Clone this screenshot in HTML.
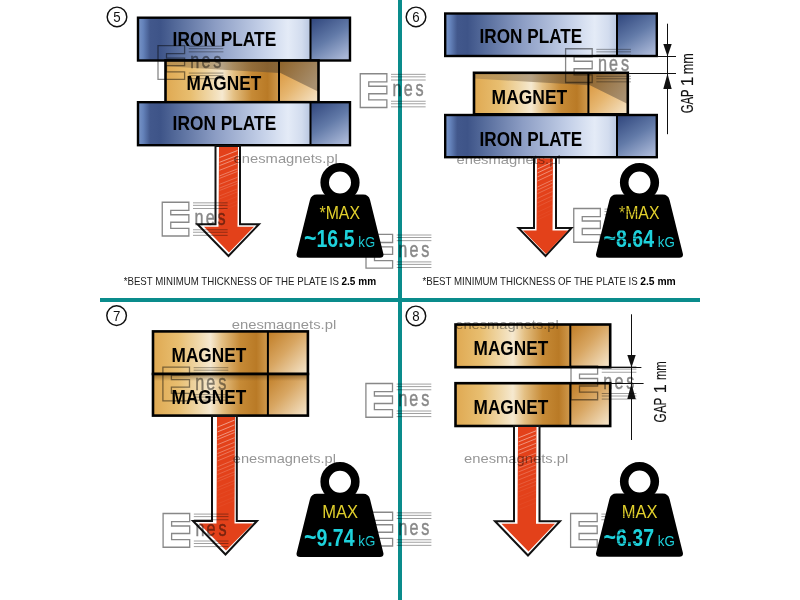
<!DOCTYPE html><html><head><meta charset="utf-8"><style>html,body{margin:0;padding:0;width:800px;height:600px;overflow:hidden;background:#fff}</style></head><body><svg width="800" height="600" viewBox="0 0 800 600" style="position:absolute;left:0;top:0;will-change:transform"><defs>
<linearGradient id="ironL" x1="0" y1="0" x2="1" y2="0">
 <stop offset="0" stop-color="#7a96c8"/>
 <stop offset="0.03" stop-color="#6482ba"/>
 <stop offset="0.07" stop-color="#42588c"/>
 <stop offset="0.13" stop-color="#3e5488"/>
 <stop offset="0.22" stop-color="#546a9a"/>
 <stop offset="0.45" stop-color="#8c9dc4"/>
 <stop offset="0.72" stop-color="#c4d0e8"/>
 <stop offset="0.87" stop-color="#e4ebf7"/>
 <stop offset="0.95" stop-color="#d2dcee"/>
 <stop offset="1" stop-color="#b8c6e0"/>
</linearGradient>
<linearGradient id="ironR" x1="0.15" y1="0" x2="0.75" y2="1">
 <stop offset="0" stop-color="#344a80"/>
 <stop offset="0.5" stop-color="#627aa8"/>
 <stop offset="1" stop-color="#a8b6d6"/>
</linearGradient>
<linearGradient id="magL" x1="0" y1="0" x2="1" y2="0">
 <stop offset="0" stop-color="#dfa952"/>
 <stop offset="0.22" stop-color="#e8be70"/>
 <stop offset="0.4" stop-color="#f0d9ac"/>
 <stop offset="0.5" stop-color="#f6e9d0"/>
 <stop offset="0.6" stop-color="#e4c084"/>
 <stop offset="0.76" stop-color="#c68a36"/>
 <stop offset="0.9" stop-color="#b97a26"/>
 <stop offset="1" stop-color="#d09a4e"/>
</linearGradient>
<linearGradient id="magShade" x1="0" y1="0" x2="1" y2="0">
 <stop offset="0" stop-color="#806848" stop-opacity="0.35"/>
 <stop offset="0.5" stop-color="#806848" stop-opacity="0.55"/>
 <stop offset="1" stop-color="#6a5030" stop-opacity="0.7"/>
</linearGradient>
<linearGradient id="magR2" x1="0" y1="0" x2="1" y2="1">
 <stop offset="0" stop-color="#d68e30"/>
 <stop offset="0.5" stop-color="#e6b670"/>
 <stop offset="1" stop-color="#f6e6cc"/>
</linearGradient>
<linearGradient id="magR2s" x1="0" y1="0" x2="1" y2="0.6">
 <stop offset="0" stop-color="#8e6228"/>
 <stop offset="1" stop-color="#a89070"/>
</linearGradient>
<linearGradient id="magR" x1="0" y1="0" x2="1" y2="1">
 <stop offset="0" stop-color="#c07c24"/>
 <stop offset="0.45" stop-color="#d8a662"/>
 <stop offset="1" stop-color="#f6e8d0"/>
</linearGradient>
<linearGradient id="topShade" x1="0" y1="0" x2="0" y2="1">
 <stop offset="0" stop-color="#5a3a10" stop-opacity="0.55"/>
 <stop offset="1" stop-color="#5a3a10" stop-opacity="0"/>
</linearGradient>
</defs><rect width="800" height="600" fill="#fff"/><rect x="398" y="0" width="4" height="600" fill="#0a8c8c"/><rect x="100" y="298" width="600" height="4" fill="#0a8c8c"/><circle cx="117" cy="16.9" r="9.8" fill="none" stroke="#111" stroke-width="1.45"/><text x="113.3" y="22.2" font-family='"Liberation Sans", sans-serif' font-size="14.6" fill="#111" textLength="7.4" lengthAdjust="spacingAndGlyphs">5</text><rect x="138" y="17.7" width="172.5" height="42.8" fill="url(#ironL)"/><rect x="310.5" y="17.7" width="39.5" height="42.8" fill="url(#ironR)"/><rect x="138" y="17.7" width="212" height="42.8" fill="none" stroke="#000" stroke-width="2.4"/><line x1="310.5" y1="17.7" x2="310.5" y2="60.5" stroke="#000" stroke-width="2"/><rect x="165.5" y="60.5" width="113.5" height="41.7" fill="url(#magL)"/><polygon points="165.5,60.5 279,60.5 279,73.01 165.5,66.338" fill="url(#magShade)"/><rect x="279" y="60.5" width="39.5" height="41.7" fill="url(#magR2)"/><polygon points="279,60.5 318.5,60.5 318.5,91.775 279,72.176" fill="url(#magR2s)"/><rect x="165.5" y="60.5" width="153.0" height="41.7" fill="none" stroke="#000" stroke-width="2.6"/><line x1="279" y1="60.5" x2="279" y2="102.2" stroke="#000" stroke-width="2"/><rect x="138" y="102.2" width="172.5" height="42.999999999999986" fill="url(#ironL)"/><rect x="310.5" y="102.2" width="39.5" height="42.999999999999986" fill="url(#ironR)"/><rect x="138" y="102.2" width="212" height="42.999999999999986" fill="none" stroke="#000" stroke-width="2.4"/><line x1="310.5" y1="102.2" x2="310.5" y2="145.2" stroke="#000" stroke-width="2"/><text x="172.6" y="46" font-family='"Liberation Sans", sans-serif' font-weight="bold" font-size="21" textLength="103.6" lengthAdjust="spacingAndGlyphs">IRON PLATE</text><text x="186.6" y="90" font-family='"Liberation Sans", sans-serif' font-weight="bold" font-size="21" textLength="74.6" lengthAdjust="spacingAndGlyphs">MAGNET</text><text x="172.6" y="130" font-family='"Liberation Sans", sans-serif' font-weight="bold" font-size="21" textLength="103.6" lengthAdjust="spacingAndGlyphs">IRON PLATE</text><polygon points="215.5,146 240,146 240,224.2 259.0,224.2 228.5,256.0 197.5,224.2 215.5,224.2" fill="#fff" stroke="#111" stroke-width="2" stroke-linejoin="miter" stroke-miterlimit="10"/><polygon points="219,147 238,147 237.5,226.7 254,226.7 229.0,252.5 204,226.7 218.5,226.7" fill="#e3411a"/><line x1="219.5" y1="157.5" x2="237.5" y2="150.5" stroke="#fff" stroke-opacity="0.80" stroke-width="0.6"/><line x1="219.5" y1="162.3" x2="237.5" y2="155.3" stroke="#fff" stroke-opacity="0.74" stroke-width="0.6"/><line x1="219.5" y1="165.6" x2="237.5" y2="158.6" stroke="#fff" stroke-opacity="0.67" stroke-width="0.6"/><line x1="219.5" y1="170.3" x2="237.5" y2="163.3" stroke="#fff" stroke-opacity="0.61" stroke-width="0.6"/><line x1="219.5" y1="175.9" x2="237.5" y2="168.9" stroke="#fff" stroke-opacity="0.54" stroke-width="0.6"/><line x1="219.5" y1="178.4" x2="237.5" y2="171.4" stroke="#fff" stroke-opacity="0.48" stroke-width="0.6"/><line x1="219.5" y1="184.3" x2="237.5" y2="177.3" stroke="#fff" stroke-opacity="0.41" stroke-width="0.6"/><line x1="219.5" y1="188.1" x2="237.5" y2="181.1" stroke="#fff" stroke-opacity="0.35" stroke-width="0.6"/><line x1="219.5" y1="190.5" x2="237.5" y2="183.5" stroke="#fff" stroke-opacity="0.29" stroke-width="0.6"/><line x1="219.5" y1="195.9" x2="237.5" y2="188.9" stroke="#fff" stroke-opacity="0.22" stroke-width="0.6"/><line x1="219.5" y1="198.9" x2="237.5" y2="191.9" stroke="#fff" stroke-opacity="0.16" stroke-width="0.6"/><line x1="219.5" y1="203.3" x2="237.5" y2="196.3" stroke="#fff" stroke-opacity="0.09" stroke-width="0.6"/><line x1="219.5" y1="208.1" x2="237.5" y2="201.1" stroke="#fff" stroke-opacity="0.08" stroke-width="0.6"/><line x1="219.5" y1="211.6" x2="237.5" y2="204.6" stroke="#fff" stroke-opacity="0.08" stroke-width="0.6"/><circle cx="340" cy="182.5" r="15.3" fill="none" stroke="#000" stroke-width="8.6"/><path d="M316.85,194.6 L363.15,194.6 Q368.65,194.6 370.04699999999997,200.1 L383.257,253.2 Q384.4,257.7 379.9,257.7 L300.1,257.7 Q295.6,257.7 296.743,253.2 L309.95300000000003,200.1 Q311.35,194.6 316.85,194.6 Z" fill="#000"/><text x="319.5" y="219.1" font-family='"Liberation Sans", sans-serif' font-size="18.4" fill="#e0cf2c" textLength="40.5" lengthAdjust="spacingAndGlyphs">*MAX</text><text x="304" y="247.0" font-family='"Liberation Sans", sans-serif' font-weight="bold" font-size="25" fill="#1ed2dc" textLength="12.5" lengthAdjust="spacingAndGlyphs">~</text><text x="316.5" y="247.0" font-family='"Liberation Sans", sans-serif' font-weight="bold" font-size="24" fill="#1ed2dc" textLength="38" lengthAdjust="spacingAndGlyphs">16.5</text><text x="358.3" y="247.0" font-family='"Liberation Sans", sans-serif' font-size="14.5" fill="#1ed2dc" textLength="17" lengthAdjust="spacingAndGlyphs">kG</text><text x="123.7" y="284.7" font-family='"Liberation Sans", sans-serif' font-size="10.5" fill="#222" textLength="215.3" lengthAdjust="spacingAndGlyphs">*BEST MINIMUM THICKNESS OF THE PLATE IS</text><text x="341.5" y="284.7" font-family='"Liberation Sans", sans-serif' font-weight="bold" font-size="10.5" fill="#000" textLength="34.6" lengthAdjust="spacingAndGlyphs">2.5 mm</text><circle cx="416" cy="16.9" r="9.8" fill="none" stroke="#111" stroke-width="1.45"/><text x="412.3" y="22.2" font-family='"Liberation Sans", sans-serif' font-size="14.6" fill="#111" textLength="7.4" lengthAdjust="spacingAndGlyphs">6</text><rect x="445.2" y="13.5" width="171.8" height="42.5" fill="url(#ironL)"/><rect x="617" y="13.5" width="39.799999999999955" height="42.5" fill="url(#ironR)"/><rect x="445.2" y="13.5" width="211.59999999999997" height="42.5" fill="none" stroke="#000" stroke-width="2.4"/><line x1="617" y1="13.5" x2="617" y2="56" stroke="#000" stroke-width="2"/><rect x="474" y="72.8" width="114.39999999999998" height="41.5" fill="url(#magL)"/><polygon points="474,72.8 588.4,72.8 588.4,85.25 474,78.61" fill="url(#magShade)"/><rect x="588.4" y="72.8" width="39.39999999999998" height="41.5" fill="url(#magR2)"/><polygon points="588.4,72.8 627.8,72.8 627.8,103.925 588.4,84.42" fill="url(#magR2s)"/><rect x="474" y="72.8" width="153.79999999999995" height="41.5" fill="none" stroke="#000" stroke-width="2.6"/><line x1="588.4" y1="72.8" x2="588.4" y2="114.3" stroke="#000" stroke-width="2"/><rect x="445.2" y="115" width="171.8" height="42.19999999999999" fill="url(#ironL)"/><rect x="617" y="115" width="39.799999999999955" height="42.19999999999999" fill="url(#ironR)"/><rect x="445.2" y="115" width="211.59999999999997" height="42.19999999999999" fill="none" stroke="#000" stroke-width="2.4"/><line x1="617" y1="115" x2="617" y2="157.2" stroke="#000" stroke-width="2"/><text x="479.6" y="43" font-family='"Liberation Sans", sans-serif' font-weight="bold" font-size="21" textLength="102.6" lengthAdjust="spacingAndGlyphs">IRON PLATE</text><text x="491.6" y="104" font-family='"Liberation Sans", sans-serif' font-weight="bold" font-size="21" textLength="75.6" lengthAdjust="spacingAndGlyphs">MAGNET</text><text x="479.6" y="146" font-family='"Liberation Sans", sans-serif' font-weight="bold" font-size="21" textLength="102.6" lengthAdjust="spacingAndGlyphs">IRON PLATE</text><polygon points="534,157.5 556,157.5 556,228 571.5,228 545.5,256.0 518.5,228 534,228" fill="#fff" stroke="#111" stroke-width="2" stroke-linejoin="miter" stroke-miterlimit="10"/><polygon points="537,158.5 553,158.5 552.5,230.5 568,230.5 546.0,254 523,230.5 536.5,230.5" fill="#e3411a"/><line x1="537.5" y1="169.0" x2="552.5" y2="162.0" stroke="#fff" stroke-opacity="0.80" stroke-width="0.6"/><line x1="537.5" y1="172.9" x2="552.5" y2="165.9" stroke="#fff" stroke-opacity="0.73" stroke-width="0.6"/><line x1="537.5" y1="176.8" x2="552.5" y2="169.8" stroke="#fff" stroke-opacity="0.66" stroke-width="0.6"/><line x1="537.5" y1="181.0" x2="552.5" y2="174.0" stroke="#fff" stroke-opacity="0.59" stroke-width="0.6"/><line x1="537.5" y1="187.0" x2="552.5" y2="180.0" stroke="#fff" stroke-opacity="0.52" stroke-width="0.6"/><line x1="537.5" y1="190.1" x2="552.5" y2="183.1" stroke="#fff" stroke-opacity="0.45" stroke-width="0.6"/><line x1="537.5" y1="193.6" x2="552.5" y2="186.6" stroke="#fff" stroke-opacity="0.38" stroke-width="0.6"/><line x1="537.5" y1="198.4" x2="552.5" y2="191.4" stroke="#fff" stroke-opacity="0.32" stroke-width="0.6"/><line x1="537.5" y1="202.8" x2="552.5" y2="195.8" stroke="#fff" stroke-opacity="0.25" stroke-width="0.6"/><line x1="537.5" y1="206.7" x2="552.5" y2="199.7" stroke="#fff" stroke-opacity="0.18" stroke-width="0.6"/><line x1="537.5" y1="212.3" x2="552.5" y2="205.3" stroke="#fff" stroke-opacity="0.11" stroke-width="0.6"/><line x1="537.5" y1="216.7" x2="552.5" y2="209.7" stroke="#fff" stroke-opacity="0.08" stroke-width="0.6"/><line x1="537.5" y1="219.9" x2="552.5" y2="212.9" stroke="#fff" stroke-opacity="0.08" stroke-width="0.6"/><circle cx="639.5" cy="182.5" r="15.3" fill="none" stroke="#000" stroke-width="8.6"/><path d="M616.35,194.6 L662.65,194.6 Q668.15,194.6 669.547,200.1 L682.757,253.2 Q683.9,257.7 679.4,257.7 L599.6,257.7 Q595.1,257.7 596.243,253.2 L609.453,200.1 Q610.85,194.6 616.35,194.6 Z" fill="#000"/><text x="619.0" y="219.1" font-family='"Liberation Sans", sans-serif' font-size="18.4" fill="#e0cf2c" textLength="40.5" lengthAdjust="spacingAndGlyphs">*MAX</text><text x="603.5" y="247.0" font-family='"Liberation Sans", sans-serif' font-weight="bold" font-size="25" fill="#1ed2dc" textLength="12.5" lengthAdjust="spacingAndGlyphs">~</text><text x="616.0" y="247.0" font-family='"Liberation Sans", sans-serif' font-weight="bold" font-size="24" fill="#1ed2dc" textLength="38" lengthAdjust="spacingAndGlyphs">8.64</text><text x="657.8" y="247.0" font-family='"Liberation Sans", sans-serif' font-size="14.5" fill="#1ed2dc" textLength="17" lengthAdjust="spacingAndGlyphs">kG</text><text x="422.45" y="284.7" font-family='"Liberation Sans", sans-serif' font-size="10.5" fill="#222" textLength="215.3" lengthAdjust="spacingAndGlyphs">*BEST MINIMUM THICKNESS OF THE PLATE IS</text><text x="640.25" y="284.7" font-family='"Liberation Sans", sans-serif' font-weight="bold" font-size="10.5" fill="#000" textLength="35.5" lengthAdjust="spacingAndGlyphs">2.5 mm</text><line x1="667.5" y1="23.7" x2="667.5" y2="134.2" stroke="#111" stroke-width="1"/><line x1="657" y1="56.5" x2="676" y2="56.5" stroke="#111" stroke-width="1"/><line x1="628" y1="73.5" x2="676" y2="73.5" stroke="#111" stroke-width="1"/><polygon points="663.3,44.0 671.7,44.0 667.5,56.5" fill="#111"/><polygon points="663.3,89.0 671.7,89.0 667.5,73.5" fill="#111"/><text transform="translate(692.5,113.3) rotate(-90)" x="0" y="0" font-family='"Liberation Sans", sans-serif' font-size="16" fill="#111" stroke="#111" stroke-width="0.15" textLength="23.8" lengthAdjust="spacingAndGlyphs">GAP</text><text transform="translate(692.5,86.2) rotate(-90)" x="0" y="0" font-family='"Liberation Sans", sans-serif' font-size="16" fill="#111" stroke="#111" stroke-width="0.15" textLength="9.5" lengthAdjust="spacingAndGlyphs">1</text><text transform="translate(692.5,74.3) rotate(-90)" x="0" y="0" font-family='"Liberation Sans", sans-serif' font-size="16" fill="#111" stroke="#111" stroke-width="0.15" textLength="21.1" lengthAdjust="spacingAndGlyphs">mm</text><circle cx="116.6" cy="315.6" r="9.8" fill="none" stroke="#111" stroke-width="1.45"/><text x="112.89999999999999" y="320.90000000000003" font-family='"Liberation Sans", sans-serif' font-size="14.6" fill="#111" textLength="7.4" lengthAdjust="spacingAndGlyphs">7</text><rect x="153" y="331.4" width="114.89999999999998" height="42.60000000000002" fill="url(#magL)"/><rect x="267.9" y="331.4" width="40.0" height="42.60000000000002" fill="url(#magR)"/><rect x="153" y="331.4" width="154.89999999999998" height="42.60000000000002" fill="none" stroke="#000" stroke-width="2.6"/><line x1="267.9" y1="331.4" x2="267.9" y2="374" stroke="#000" stroke-width="2"/><rect x="153" y="374" width="114.89999999999998" height="41.60000000000002" fill="url(#magL)"/><rect x="267.9" y="374" width="40.0" height="41.60000000000002" fill="url(#magR)"/><rect x="153" y="374" width="154.89999999999998" height="7" fill="url(#topShade)"/><rect x="153" y="374" width="154.89999999999998" height="41.60000000000002" fill="none" stroke="#000" stroke-width="2.6"/><line x1="267.9" y1="374" x2="267.9" y2="415.6" stroke="#000" stroke-width="2"/><text x="171.6" y="362" font-family='"Liberation Sans", sans-serif' font-weight="bold" font-size="21" textLength="74.6" lengthAdjust="spacingAndGlyphs">MAGNET</text><text x="171.6" y="404" font-family='"Liberation Sans", sans-serif' font-weight="bold" font-size="21" textLength="74.6" lengthAdjust="spacingAndGlyphs">MAGNET</text><polygon points="212,416 236.8,416 236.8,521 257.0,521 225.5,554.5 193.0,521 212,521" fill="#fff" stroke="#111" stroke-width="2" stroke-linejoin="miter" stroke-miterlimit="10"/><polygon points="217,417 235,417 234.5,523.5 253,523.5 226.0,550.5 199,523.5 216.5,523.5" fill="#e3411a"/><line x1="217.5" y1="427.1" x2="234.5" y2="420.1" stroke="#fff" stroke-opacity="0.80" stroke-width="0.6"/><line x1="217.5" y1="431.9" x2="234.5" y2="424.9" stroke="#fff" stroke-opacity="0.76" stroke-width="0.6"/><line x1="217.5" y1="436.8" x2="234.5" y2="429.8" stroke="#fff" stroke-opacity="0.71" stroke-width="0.6"/><line x1="217.5" y1="439.5" x2="234.5" y2="432.5" stroke="#fff" stroke-opacity="0.67" stroke-width="0.6"/><line x1="217.5" y1="444.7" x2="234.5" y2="437.7" stroke="#fff" stroke-opacity="0.62" stroke-width="0.6"/><line x1="217.5" y1="449.3" x2="234.5" y2="442.3" stroke="#fff" stroke-opacity="0.58" stroke-width="0.6"/><line x1="217.5" y1="453.5" x2="234.5" y2="446.5" stroke="#fff" stroke-opacity="0.53" stroke-width="0.6"/><line x1="217.5" y1="456.7" x2="234.5" y2="449.7" stroke="#fff" stroke-opacity="0.49" stroke-width="0.6"/><line x1="217.5" y1="460.9" x2="234.5" y2="453.9" stroke="#fff" stroke-opacity="0.44" stroke-width="0.6"/><line x1="217.5" y1="466.8" x2="234.5" y2="459.8" stroke="#fff" stroke-opacity="0.40" stroke-width="0.6"/><line x1="217.5" y1="470.7" x2="234.5" y2="463.7" stroke="#fff" stroke-opacity="0.35" stroke-width="0.6"/><line x1="217.5" y1="474.5" x2="234.5" y2="467.5" stroke="#fff" stroke-opacity="0.31" stroke-width="0.6"/><line x1="217.5" y1="478.9" x2="234.5" y2="471.9" stroke="#fff" stroke-opacity="0.26" stroke-width="0.6"/><line x1="217.5" y1="481.5" x2="234.5" y2="474.5" stroke="#fff" stroke-opacity="0.21" stroke-width="0.6"/><line x1="217.5" y1="487.5" x2="234.5" y2="480.5" stroke="#fff" stroke-opacity="0.17" stroke-width="0.6"/><line x1="217.5" y1="490.4" x2="234.5" y2="483.4" stroke="#fff" stroke-opacity="0.12" stroke-width="0.6"/><line x1="217.5" y1="495.2" x2="234.5" y2="488.2" stroke="#fff" stroke-opacity="0.08" stroke-width="0.6"/><line x1="217.5" y1="499.2" x2="234.5" y2="492.2" stroke="#fff" stroke-opacity="0.08" stroke-width="0.6"/><line x1="217.5" y1="503.9" x2="234.5" y2="496.9" stroke="#fff" stroke-opacity="0.08" stroke-width="0.6"/><line x1="217.5" y1="507.4" x2="234.5" y2="500.4" stroke="#fff" stroke-opacity="0.08" stroke-width="0.6"/><circle cx="340" cy="481.7" r="15.3" fill="none" stroke="#000" stroke-width="8.6"/><path d="M316.85,493.8 L363.15,493.8 Q368.65,493.8 370.04699999999997,499.3 L383.257,552.4 Q384.4,556.9 379.9,556.9 L300.1,556.9 Q295.6,556.9 296.743,552.4 L309.95300000000003,499.3 Q311.35,493.8 316.85,493.8 Z" fill="#000"/><text x="322.2" y="518.3" font-family='"Liberation Sans", sans-serif' font-size="18.4" fill="#e0cf2c" textLength="35.8" lengthAdjust="spacingAndGlyphs">MAX</text><text x="304" y="546.2" font-family='"Liberation Sans", sans-serif' font-weight="bold" font-size="25" fill="#1ed2dc" textLength="12.5" lengthAdjust="spacingAndGlyphs">~</text><text x="316.5" y="546.2" font-family='"Liberation Sans", sans-serif' font-weight="bold" font-size="24" fill="#1ed2dc" textLength="38" lengthAdjust="spacingAndGlyphs">9.74</text><text x="358.3" y="546.2" font-family='"Liberation Sans", sans-serif' font-size="14.5" fill="#1ed2dc" textLength="17" lengthAdjust="spacingAndGlyphs">kG</text><circle cx="415.9" cy="315.9" r="9.8" fill="none" stroke="#111" stroke-width="1.45"/><text x="412.2" y="321.2" font-family='"Liberation Sans", sans-serif' font-size="14.6" fill="#111" textLength="7.4" lengthAdjust="spacingAndGlyphs">8</text><rect x="455.5" y="324.5" width="114.79999999999995" height="42.69999999999999" fill="url(#magL)"/><rect x="570.3" y="324.5" width="39.90000000000009" height="42.69999999999999" fill="url(#magR)"/><rect x="455.5" y="324.5" width="154.70000000000005" height="42.69999999999999" fill="none" stroke="#000" stroke-width="2.6"/><line x1="570.3" y1="324.5" x2="570.3" y2="367.2" stroke="#000" stroke-width="2"/><rect x="455.5" y="383.2" width="114.79999999999995" height="42.80000000000001" fill="url(#magL)"/><rect x="570.3" y="383.2" width="39.90000000000009" height="42.80000000000001" fill="url(#magR)"/><rect x="455.5" y="383.2" width="154.70000000000005" height="42.80000000000001" fill="none" stroke="#000" stroke-width="2.6"/><line x1="570.3" y1="383.2" x2="570.3" y2="426" stroke="#000" stroke-width="2"/><text x="473.6" y="355" font-family='"Liberation Sans", sans-serif' font-weight="bold" font-size="21" textLength="74.6" lengthAdjust="spacingAndGlyphs">MAGNET</text><text x="473.6" y="414" font-family='"Liberation Sans", sans-serif' font-weight="bold" font-size="21" textLength="74.6" lengthAdjust="spacingAndGlyphs">MAGNET</text><polygon points="514,426 539.5,426 539.5,521.2 560.0,521.2 528,555.5 495.0,521.2 514,521.2" fill="#fff" stroke="#111" stroke-width="2" stroke-linejoin="miter" stroke-miterlimit="10"/><polygon points="518,427 536.5,427 536.0,523.7 555,523.7 528.5,551.5 501.5,523.7 517.5,523.7" fill="#e3411a"/><line x1="518.5" y1="437.8" x2="536.0" y2="430.8" stroke="#fff" stroke-opacity="0.80" stroke-width="0.6"/><line x1="518.5" y1="441.9" x2="536.0" y2="434.9" stroke="#fff" stroke-opacity="0.75" stroke-width="0.6"/><line x1="518.5" y1="445.7" x2="536.0" y2="438.7" stroke="#fff" stroke-opacity="0.70" stroke-width="0.6"/><line x1="518.5" y1="450.3" x2="536.0" y2="443.3" stroke="#fff" stroke-opacity="0.65" stroke-width="0.6"/><line x1="518.5" y1="454.2" x2="536.0" y2="447.2" stroke="#fff" stroke-opacity="0.60" stroke-width="0.6"/><line x1="518.5" y1="460.1" x2="536.0" y2="453.1" stroke="#fff" stroke-opacity="0.55" stroke-width="0.6"/><line x1="518.5" y1="464.1" x2="536.0" y2="457.1" stroke="#fff" stroke-opacity="0.50" stroke-width="0.6"/><line x1="518.5" y1="468.2" x2="536.0" y2="461.2" stroke="#fff" stroke-opacity="0.45" stroke-width="0.6"/><line x1="518.5" y1="471.9" x2="536.0" y2="464.9" stroke="#fff" stroke-opacity="0.40" stroke-width="0.6"/><line x1="518.5" y1="475.8" x2="536.0" y2="468.8" stroke="#fff" stroke-opacity="0.35" stroke-width="0.6"/><line x1="518.5" y1="479.9" x2="536.0" y2="472.9" stroke="#fff" stroke-opacity="0.30" stroke-width="0.6"/><line x1="518.5" y1="484.8" x2="536.0" y2="477.8" stroke="#fff" stroke-opacity="0.25" stroke-width="0.6"/><line x1="518.5" y1="488.3" x2="536.0" y2="481.3" stroke="#fff" stroke-opacity="0.20" stroke-width="0.6"/><line x1="518.5" y1="491.8" x2="536.0" y2="484.8" stroke="#fff" stroke-opacity="0.15" stroke-width="0.6"/><line x1="518.5" y1="497.1" x2="536.0" y2="490.1" stroke="#fff" stroke-opacity="0.10" stroke-width="0.6"/><line x1="518.5" y1="500.1" x2="536.0" y2="493.1" stroke="#fff" stroke-opacity="0.08" stroke-width="0.6"/><line x1="518.5" y1="505.2" x2="536.0" y2="498.2" stroke="#fff" stroke-opacity="0.08" stroke-width="0.6"/><line x1="518.5" y1="509.6" x2="536.0" y2="502.6" stroke="#fff" stroke-opacity="0.08" stroke-width="0.6"/><circle cx="639.5" cy="481.5" r="15.3" fill="none" stroke="#000" stroke-width="8.6"/><path d="M616.35,493.6 L662.65,493.6 Q668.15,493.6 669.547,499.1 L682.757,552.2 Q683.9,556.7 679.4,556.7 L599.6,556.7 Q595.1,556.7 596.243,552.2 L609.453,499.1 Q610.85,493.6 616.35,493.6 Z" fill="#000"/><text x="621.7" y="518.1" font-family='"Liberation Sans", sans-serif' font-size="18.4" fill="#e0cf2c" textLength="35.8" lengthAdjust="spacingAndGlyphs">MAX</text><text x="603.5" y="546.0" font-family='"Liberation Sans", sans-serif' font-weight="bold" font-size="25" fill="#1ed2dc" textLength="12.5" lengthAdjust="spacingAndGlyphs">~</text><text x="616.0" y="546.0" font-family='"Liberation Sans", sans-serif' font-weight="bold" font-size="24" fill="#1ed2dc" textLength="38" lengthAdjust="spacingAndGlyphs">6.37</text><text x="657.8" y="546.0" font-family='"Liberation Sans", sans-serif' font-size="14.5" fill="#1ed2dc" textLength="17" lengthAdjust="spacingAndGlyphs">kG</text><line x1="631.5" y1="314.3" x2="631.5" y2="440" stroke="#111" stroke-width="1"/><line x1="610" y1="367.5" x2="641.4" y2="367.5" stroke="#111" stroke-width="1"/><line x1="610" y1="383.5" x2="643.6" y2="383.5" stroke="#111" stroke-width="1"/><polygon points="627.3,355.0 635.7,355.0 631.5,367.5" fill="#111"/><polygon points="627.3,399.0 635.7,399.0 631.5,383.5" fill="#111"/><text transform="translate(665.5,422.40000000000003) rotate(-90)" x="0" y="0" font-family='"Liberation Sans", sans-serif' font-size="16" fill="#111" stroke="#111" stroke-width="0.15" textLength="24.8" lengthAdjust="spacingAndGlyphs">GAP</text><text transform="translate(665.5,393.2) rotate(-90)" x="0" y="0" font-family='"Liberation Sans", sans-serif' font-size="16" fill="#111" stroke="#111" stroke-width="0.15" textLength="9.0" lengthAdjust="spacingAndGlyphs">1</text><text transform="translate(665.5,380.1) rotate(-90)" x="0" y="0" font-family='"Liberation Sans", sans-serif' font-size="16" fill="#111" stroke="#111" stroke-width="0.15" textLength="18.9" lengthAdjust="spacingAndGlyphs">mm</text><g style="mix-blend-mode:multiply" opacity="0.9"><g transform="translate(158,45.6)"><path d="M0,0 H26.6 V8.1 H8.5 V12.5 H26.6 V20 H8.5 V26.2 H26.6 V33.75 H0 Z" fill="none" stroke="#7a7a7a" stroke-width="1.3"/><line x1="30.75" y1="0.6" x2="65.4" y2="0.6" stroke="#8a8a8a" stroke-width="0.9"/><line x1="30.75" y1="3.1" x2="65.4" y2="3.1" stroke="#8a8a8a" stroke-width="0.9"/><line x1="30.75" y1="6.25" x2="65.4" y2="6.25" stroke="#8a8a8a" stroke-width="0.9"/><line x1="30.75" y1="27.5" x2="65.4" y2="27.5" stroke="#8a8a8a" stroke-width="0.9"/><line x1="30.75" y1="30" x2="65.4" y2="30" stroke="#8a8a8a" stroke-width="0.9"/><line x1="30.75" y1="33.1" x2="65.4" y2="33.1" stroke="#8a8a8a" stroke-width="0.9"/><text transform="translate(32.3,22.5) scale(0.72,1)" x="0 15.5 32" y="0" font-family='"Liberation Sans", sans-serif' font-size="22.5" fill="#7a7a7a" stroke="#7a7a7a" stroke-width="0.5">nes</text></g><g transform="translate(360.25,73.75)"><path d="M0,0 H26.6 V8.1 H8.5 V12.5 H26.6 V20 H8.5 V26.2 H26.6 V33.75 H0 Z" fill="none" stroke="#7a7a7a" stroke-width="1.3"/><line x1="30.75" y1="0.6" x2="65.4" y2="0.6" stroke="#8a8a8a" stroke-width="0.9"/><line x1="30.75" y1="3.1" x2="65.4" y2="3.1" stroke="#8a8a8a" stroke-width="0.9"/><line x1="30.75" y1="6.25" x2="65.4" y2="6.25" stroke="#8a8a8a" stroke-width="0.9"/><line x1="30.75" y1="27.5" x2="65.4" y2="27.5" stroke="#8a8a8a" stroke-width="0.9"/><line x1="30.75" y1="30" x2="65.4" y2="30" stroke="#8a8a8a" stroke-width="0.9"/><line x1="30.75" y1="33.1" x2="65.4" y2="33.1" stroke="#8a8a8a" stroke-width="0.9"/><text transform="translate(32.3,22.5) scale(0.72,1)" x="0 15.5 32" y="0" font-family='"Liberation Sans", sans-serif' font-size="22.5" fill="#7a7a7a" stroke="#7a7a7a" stroke-width="0.5">nes</text></g><g transform="translate(162.25,202.25)"><path d="M0,0 H26.6 V8.1 H8.5 V12.5 H26.6 V20 H8.5 V26.2 H26.6 V33.75 H0 Z" fill="none" stroke="#7a7a7a" stroke-width="1.3"/><line x1="30.75" y1="0.6" x2="65.4" y2="0.6" stroke="#8a8a8a" stroke-width="0.9"/><line x1="30.75" y1="3.1" x2="65.4" y2="3.1" stroke="#8a8a8a" stroke-width="0.9"/><line x1="30.75" y1="6.25" x2="65.4" y2="6.25" stroke="#8a8a8a" stroke-width="0.9"/><line x1="30.75" y1="27.5" x2="65.4" y2="27.5" stroke="#8a8a8a" stroke-width="0.9"/><line x1="30.75" y1="30" x2="65.4" y2="30" stroke="#8a8a8a" stroke-width="0.9"/><line x1="30.75" y1="33.1" x2="65.4" y2="33.1" stroke="#8a8a8a" stroke-width="0.9"/><text transform="translate(32.3,22.5) scale(0.72,1)" x="0 15.5 32" y="0" font-family='"Liberation Sans", sans-serif' font-size="22.5" fill="#7a7a7a" stroke="#7a7a7a" stroke-width="0.5">nes</text></g><g transform="translate(366,234.4)"><path d="M0,0 H26.6 V8.1 H8.5 V12.5 H26.6 V20 H8.5 V26.2 H26.6 V33.75 H0 Z" fill="none" stroke="#7a7a7a" stroke-width="1.3"/><line x1="30.75" y1="0.6" x2="65.4" y2="0.6" stroke="#8a8a8a" stroke-width="0.9"/><line x1="30.75" y1="3.1" x2="65.4" y2="3.1" stroke="#8a8a8a" stroke-width="0.9"/><line x1="30.75" y1="6.25" x2="65.4" y2="6.25" stroke="#8a8a8a" stroke-width="0.9"/><line x1="30.75" y1="27.5" x2="65.4" y2="27.5" stroke="#8a8a8a" stroke-width="0.9"/><line x1="30.75" y1="30" x2="65.4" y2="30" stroke="#8a8a8a" stroke-width="0.9"/><line x1="30.75" y1="33.1" x2="65.4" y2="33.1" stroke="#8a8a8a" stroke-width="0.9"/><text transform="translate(32.3,22.5) scale(0.72,1)" x="0 15.5 32" y="0" font-family='"Liberation Sans", sans-serif' font-size="22.5" fill="#7a7a7a" stroke="#7a7a7a" stroke-width="0.5">nes</text></g><g transform="translate(565.6,48.75)"><path d="M0,0 H26.6 V8.1 H8.5 V12.5 H26.6 V20 H8.5 V26.2 H26.6 V33.75 H0 Z" fill="none" stroke="#7a7a7a" stroke-width="1.3"/><line x1="30.75" y1="0.6" x2="65.4" y2="0.6" stroke="#8a8a8a" stroke-width="0.9"/><line x1="30.75" y1="3.1" x2="65.4" y2="3.1" stroke="#8a8a8a" stroke-width="0.9"/><line x1="30.75" y1="6.25" x2="65.4" y2="6.25" stroke="#8a8a8a" stroke-width="0.9"/><line x1="30.75" y1="27.5" x2="65.4" y2="27.5" stroke="#8a8a8a" stroke-width="0.9"/><line x1="30.75" y1="30" x2="65.4" y2="30" stroke="#8a8a8a" stroke-width="0.9"/><line x1="30.75" y1="33.1" x2="65.4" y2="33.1" stroke="#8a8a8a" stroke-width="0.9"/><text transform="translate(32.3,22.5) scale(0.72,1)" x="0 15.5 32" y="0" font-family='"Liberation Sans", sans-serif' font-size="22.5" fill="#7a7a7a" stroke="#7a7a7a" stroke-width="0.5">nes</text></g><g transform="translate(573.75,208.5)"><path d="M0,0 H26.6 V8.1 H8.5 V12.5 H26.6 V20 H8.5 V26.2 H26.6 V33.75 H0 Z" fill="none" stroke="#7a7a7a" stroke-width="1.3"/><line x1="30.75" y1="0.6" x2="65.4" y2="0.6" stroke="#8a8a8a" stroke-width="0.9"/><line x1="30.75" y1="3.1" x2="65.4" y2="3.1" stroke="#8a8a8a" stroke-width="0.9"/><line x1="30.75" y1="6.25" x2="65.4" y2="6.25" stroke="#8a8a8a" stroke-width="0.9"/><line x1="30.75" y1="27.5" x2="65.4" y2="27.5" stroke="#8a8a8a" stroke-width="0.9"/><line x1="30.75" y1="30" x2="65.4" y2="30" stroke="#8a8a8a" stroke-width="0.9"/><line x1="30.75" y1="33.1" x2="65.4" y2="33.1" stroke="#8a8a8a" stroke-width="0.9"/><text transform="translate(32.3,22.5) scale(0.72,1)" x="0 15.5 32" y="0" font-family='"Liberation Sans", sans-serif' font-size="22.5" fill="#7a7a7a" stroke="#7a7a7a" stroke-width="0.5">nes</text></g><g transform="translate(162.9,367.1)"><path d="M0,0 H26.6 V8.1 H8.5 V12.5 H26.6 V20 H8.5 V26.2 H26.6 V33.75 H0 Z" fill="none" stroke="#7a7a7a" stroke-width="1.3"/><line x1="30.75" y1="0.6" x2="65.4" y2="0.6" stroke="#8a8a8a" stroke-width="0.9"/><line x1="30.75" y1="3.1" x2="65.4" y2="3.1" stroke="#8a8a8a" stroke-width="0.9"/><line x1="30.75" y1="6.25" x2="65.4" y2="6.25" stroke="#8a8a8a" stroke-width="0.9"/><line x1="30.75" y1="27.5" x2="65.4" y2="27.5" stroke="#8a8a8a" stroke-width="0.9"/><line x1="30.75" y1="30" x2="65.4" y2="30" stroke="#8a8a8a" stroke-width="0.9"/><line x1="30.75" y1="33.1" x2="65.4" y2="33.1" stroke="#8a8a8a" stroke-width="0.9"/><text transform="translate(32.3,22.5) scale(0.72,1)" x="0 15.5 32" y="0" font-family='"Liberation Sans", sans-serif' font-size="22.5" fill="#7a7a7a" stroke="#7a7a7a" stroke-width="0.5">nes</text></g><g transform="translate(365.9,383.5)"><path d="M0,0 H26.6 V8.1 H8.5 V12.5 H26.6 V20 H8.5 V26.2 H26.6 V33.75 H0 Z" fill="none" stroke="#7a7a7a" stroke-width="1.3"/><line x1="30.75" y1="0.6" x2="65.4" y2="0.6" stroke="#8a8a8a" stroke-width="0.9"/><line x1="30.75" y1="3.1" x2="65.4" y2="3.1" stroke="#8a8a8a" stroke-width="0.9"/><line x1="30.75" y1="6.25" x2="65.4" y2="6.25" stroke="#8a8a8a" stroke-width="0.9"/><line x1="30.75" y1="27.5" x2="65.4" y2="27.5" stroke="#8a8a8a" stroke-width="0.9"/><line x1="30.75" y1="30" x2="65.4" y2="30" stroke="#8a8a8a" stroke-width="0.9"/><line x1="30.75" y1="33.1" x2="65.4" y2="33.1" stroke="#8a8a8a" stroke-width="0.9"/><text transform="translate(32.3,22.5) scale(0.72,1)" x="0 15.5 32" y="0" font-family='"Liberation Sans", sans-serif' font-size="22.5" fill="#7a7a7a" stroke="#7a7a7a" stroke-width="0.5">nes</text></g><g transform="translate(366,512.25)"><path d="M0,0 H26.6 V8.1 H8.5 V12.5 H26.6 V20 H8.5 V26.2 H26.6 V33.75 H0 Z" fill="none" stroke="#7a7a7a" stroke-width="1.3"/><line x1="30.75" y1="0.6" x2="65.4" y2="0.6" stroke="#8a8a8a" stroke-width="0.9"/><line x1="30.75" y1="3.1" x2="65.4" y2="3.1" stroke="#8a8a8a" stroke-width="0.9"/><line x1="30.75" y1="6.25" x2="65.4" y2="6.25" stroke="#8a8a8a" stroke-width="0.9"/><line x1="30.75" y1="27.5" x2="65.4" y2="27.5" stroke="#8a8a8a" stroke-width="0.9"/><line x1="30.75" y1="30" x2="65.4" y2="30" stroke="#8a8a8a" stroke-width="0.9"/><line x1="30.75" y1="33.1" x2="65.4" y2="33.1" stroke="#8a8a8a" stroke-width="0.9"/><text transform="translate(32.3,22.5) scale(0.72,1)" x="0 15.5 32" y="0" font-family='"Liberation Sans", sans-serif' font-size="22.5" fill="#7a7a7a" stroke="#7a7a7a" stroke-width="0.5">nes</text></g><g transform="translate(163.1,513.5)"><path d="M0,0 H26.6 V8.1 H8.5 V12.5 H26.6 V20 H8.5 V26.2 H26.6 V33.75 H0 Z" fill="none" stroke="#7a7a7a" stroke-width="1.3"/><line x1="30.75" y1="0.6" x2="65.4" y2="0.6" stroke="#8a8a8a" stroke-width="0.9"/><line x1="30.75" y1="3.1" x2="65.4" y2="3.1" stroke="#8a8a8a" stroke-width="0.9"/><line x1="30.75" y1="6.25" x2="65.4" y2="6.25" stroke="#8a8a8a" stroke-width="0.9"/><line x1="30.75" y1="27.5" x2="65.4" y2="27.5" stroke="#8a8a8a" stroke-width="0.9"/><line x1="30.75" y1="30" x2="65.4" y2="30" stroke="#8a8a8a" stroke-width="0.9"/><line x1="30.75" y1="33.1" x2="65.4" y2="33.1" stroke="#8a8a8a" stroke-width="0.9"/><text transform="translate(32.3,22.5) scale(0.72,1)" x="0 15.5 32" y="0" font-family='"Liberation Sans", sans-serif' font-size="22.5" fill="#7a7a7a" stroke="#7a7a7a" stroke-width="0.5">nes</text></g><g transform="translate(570.6,513.5)"><path d="M0,0 H26.6 V8.1 H8.5 V12.5 H26.6 V20 H8.5 V26.2 H26.6 V33.75 H0 Z" fill="none" stroke="#7a7a7a" stroke-width="1.3"/><line x1="30.75" y1="0.6" x2="65.4" y2="0.6" stroke="#8a8a8a" stroke-width="0.9"/><line x1="30.75" y1="3.1" x2="65.4" y2="3.1" stroke="#8a8a8a" stroke-width="0.9"/><line x1="30.75" y1="6.25" x2="65.4" y2="6.25" stroke="#8a8a8a" stroke-width="0.9"/><line x1="30.75" y1="27.5" x2="65.4" y2="27.5" stroke="#8a8a8a" stroke-width="0.9"/><line x1="30.75" y1="30" x2="65.4" y2="30" stroke="#8a8a8a" stroke-width="0.9"/><line x1="30.75" y1="33.1" x2="65.4" y2="33.1" stroke="#8a8a8a" stroke-width="0.9"/><text transform="translate(32.3,22.5) scale(0.72,1)" x="0 15.5 32" y="0" font-family='"Liberation Sans", sans-serif' font-size="22.5" fill="#7a7a7a" stroke="#7a7a7a" stroke-width="0.5">nes</text></g><g transform="translate(571,366)"><path d="M0,0 H26.6 V8.1 H8.5 V12.5 H26.6 V20 H8.5 V26.2 H26.6 V33.75 H0 Z" fill="none" stroke="#7a7a7a" stroke-width="1.3"/><line x1="30.75" y1="0.6" x2="65.4" y2="0.6" stroke="#8a8a8a" stroke-width="0.9"/><line x1="30.75" y1="3.1" x2="65.4" y2="3.1" stroke="#8a8a8a" stroke-width="0.9"/><line x1="30.75" y1="6.25" x2="65.4" y2="6.25" stroke="#8a8a8a" stroke-width="0.9"/><line x1="30.75" y1="27.5" x2="65.4" y2="27.5" stroke="#8a8a8a" stroke-width="0.9"/><line x1="30.75" y1="30" x2="65.4" y2="30" stroke="#8a8a8a" stroke-width="0.9"/><line x1="30.75" y1="33.1" x2="65.4" y2="33.1" stroke="#8a8a8a" stroke-width="0.9"/><text transform="translate(32.3,22.5) scale(0.72,1)" x="0 15.5 32" y="0" font-family='"Liberation Sans", sans-serif' font-size="22.5" fill="#7a7a7a" stroke="#7a7a7a" stroke-width="0.5">nes</text></g><text x="233.6" y="162.9" font-family='"Liberation Sans", sans-serif' font-size="13.2" fill="#8a8a8a" textLength="104.2" lengthAdjust="spacingAndGlyphs">enesmagnets.pl</text><text x="456.5" y="164.2" font-family='"Liberation Sans", sans-serif' font-size="13.2" fill="#8a8a8a" textLength="104.2" lengthAdjust="spacingAndGlyphs">enesmagnets.pl</text><text x="231.7" y="329.2" font-family='"Liberation Sans", sans-serif' font-size="13.2" fill="#8a8a8a" textLength="104.5" lengthAdjust="spacingAndGlyphs">enesmagnets.pl</text><text x="232.8" y="462.5" font-family='"Liberation Sans", sans-serif' font-size="13.2" fill="#8a8a8a" textLength="103.1" lengthAdjust="spacingAndGlyphs">enesmagnets.pl</text><text x="455.25" y="329.2" font-family='"Liberation Sans", sans-serif' font-size="13.2" fill="#8a8a8a" textLength="103.5" lengthAdjust="spacingAndGlyphs">enesmagnets.pl</text><text x="464" y="462.5" font-family='"Liberation Sans", sans-serif' font-size="13.2" fill="#8a8a8a" textLength="104.3" lengthAdjust="spacingAndGlyphs">enesmagnets.pl</text></g></svg></body></html>
